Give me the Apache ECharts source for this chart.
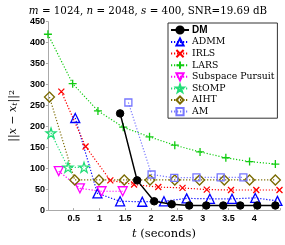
<!DOCTYPE html>
<html><head><meta charset="utf-8">
<script src="https://cdn.jsdelivr.net/npm/echarts@6/dist/echarts.min.js"></script>
<style>html,body{margin:0;padding:0;background:#fff}#c{width:285px;height:245px}</style>
</head><body><div id="c"></div>
<script>
const seriesNames = ['DM','ADMM','IRLS','LARS','Subspace Pursuit','StOMP','AIHT','AM'];
const dmT   = [1.40,1.73,2.06,2.40,2.74,3.07,3.40,3.73,4.06,4.41];
const dmV   = [231,71,21,14,11,11,11,11,11,11];
const admmT = [0.53,0.96,1.40,1.83,2.25,2.69,3.14,3.57,4.02,4.45];
const admmV = [220,40,21,20,21,28,27,27,29,22];
const irlsT = [0.26,0.73,1.21,1.67,2.14,2.61,3.08,3.55,4.04,4.49];
const irlsV = [283,152,71,61,55,53,49,48,48,48];
const larsT = [0.00,0.48,0.97,1.46,1.97,2.46,2.95,3.45,3.91,4.41];
const larsV = [420,302,237,198,175,155,139,125,116,110];
const spT   = [0.21,0.62,1.04,1.45];
const spV   = [93,52,45,45];
const stompT = [0.06,0.39,0.70];
const stompV = [184,102,102];
const aihtT = [0.03,0.52,0.99,1.48,1.98,2.46,2.94,3.42,3.91,4.41];
const aihtV = [270,72,72,72,72,72,72,72,72,72];
const amT   = [1.56,2.01,2.45,2.88,3.35,3.79];
const amV   = [257,85,77,78,78,78];
const xTicks = [0.5,1,1.5,2,2.5,3,3.5,4];
const yTicks = [0,50,100,150,200,250,300,350,400,450];

function zip(a,b){return a.map((t,i)=>[t,b[i]]);}
// pentagram path
function starPath(){
  let p='';
  for(let i=0;i<10;i++){
    const r = i%2===0?10:3.9;
    const a = -Math.PI/2 + i*Math.PI/5;
    p += (i===0?'M':'L') + (10+r*Math.cos(a)).toFixed(2)+','+(10+r*Math.sin(a)).toFixed(2);
  }
  return 'path://'+p+'Z';
}
const serif = 'DejaVu Serif';
const sans = 'Liberation Sans';
function mk(name, data, color, symbol, size, opts){
  opts = opts||{};
  return Object.assign({
    name, type:'line', data, symbol, symbolSize:size,
    lineStyle:{color, width:1.2, type:[1.2,1.8]},
    itemStyle:{color:'rgba(255,255,255,0)', borderColor:color, borderWidth:1.3},
    emphasis:{disabled:true}, animation:false, z:2
  }, opts);
}
const series = [
  mk('DM', zip(dmT,dmV), '#000', 'circle', 7.5, {lineStyle:{color:'#000',width:1.5,type:'solid'}, itemStyle:{color:'#000',borderColor:'#000',borderWidth:1}, z:5}),
  mk('ADMM', zip(admmT,admmV), '#0000ff', 'triangle', 9),
  mk('IRLS', zip(irlsT,irlsV), '#ff0000', 'path://M0,0L10,10M10,0L0,10', 6),
  mk('LARS', zip(larsT,larsV), '#11cc11', 'path://M5,0L5,10M0,5L10,5', 8),
  mk('Subspace Pursuit', zip(spT,spV), '#ff00ff', 'triangle', 9, {symbolRotate:180}),
  mk('StOMP', zip(stompT,stompV), '#22dd77', starPath(), 10),
  mk('AIHT', zip(aihtT,aihtV), '#7a6a00', 'diamond', 10),
  mk('AM', zip(amT,amV), '#7777ff', 'rect', 7)
];
const chart = echarts.init(document.getElementById('c'), null, {renderer:'canvas'});
chart.setOption({
  animation:false,
  title:{
    text:'{i|m} = 1024, {i|n} = 2048, {i|s} = 400, SNR=19.69 dB',
    left:143, top:1, textAlign:'center',
    textStyle:{fontFamily:serif, fontSize:10.3, fontWeight:'normal', color:'#000',
      rich:{i:{fontFamily:serif, fontStyle:'italic', fontSize:10.3}}}
  },
  grid:{left:37.5, right:5, top:21.7, bottom:28},
  legend:{
    orient:'vertical', left:168, top:23, padding:[2,3,2,2],
    itemWidth:18, itemHeight:9, itemGap:2.4,
    borderColor:'#333', borderWidth:1, backgroundColor:'#fff',
    textStyle:{fontFamily:serif, fontSize:9.3, color:'#000', padding:[0,0,0,-2]},
    data: seriesNames.map(n => n==='DM' ? {name:n, textStyle:{fontFamily:sans, fontWeight:'bold', fontSize:10}} : {name:n})
  },
  xAxis:{
    type:'value', min:0, max:4.5, interval:0.5,
    name:'{i|t} (seconds)', nameLocation:'middle', nameGap:13,
    nameTextStyle:{fontFamily:serif, fontSize:11.5, color:'#000', rich:{i:{fontFamily:serif, fontStyle:'italic', fontSize:11.5}}},
    axisLine:{lineStyle:{color:'#aaa'}},
    axisTick:{show:true, length:2, lineStyle:{color:'#aaa'}, inside:true},
    axisLabel:{fontFamily:sans, fontWeight:'bold', fontSize:9, color:'#000', margin:4,
      formatter:v => xTicks.indexOf(Math.round(v*10)/10) >= 0 ? String(v) : ''},
    splitLine:{show:false}
  },
  yAxis:{
    type:'value', min:0, max:450, interval:50,
    name:'||{i|x} \u2212 {i|x}{s|t}||{p|2}', nameLocation:'middle', nameGap:25, nameRotate:90,
    nameTextStyle:{fontFamily:serif, fontSize:11, color:'#000',
      rich:{i:{fontFamily:serif, fontStyle:'italic', fontSize:11},
            s:{fontFamily:serif, fontStyle:'italic', fontSize:8, verticalAlign:'bottom'},
            p:{fontFamily:serif, fontSize:8, verticalAlign:'top'}}},
    axisLine:{show:true, lineStyle:{color:'#aaa'}},
    axisTick:{show:true, length:2, lineStyle:{color:'#aaa'}},
    axisLabel:{fontFamily:sans, fontWeight:'bold', fontSize:9, color:'#000', margin:3,
      formatter:v => yTicks.indexOf(v) >= 0 ? String(v) : ''},
    splitLine:{show:false}
  },
  series
});
</script></body></html>
